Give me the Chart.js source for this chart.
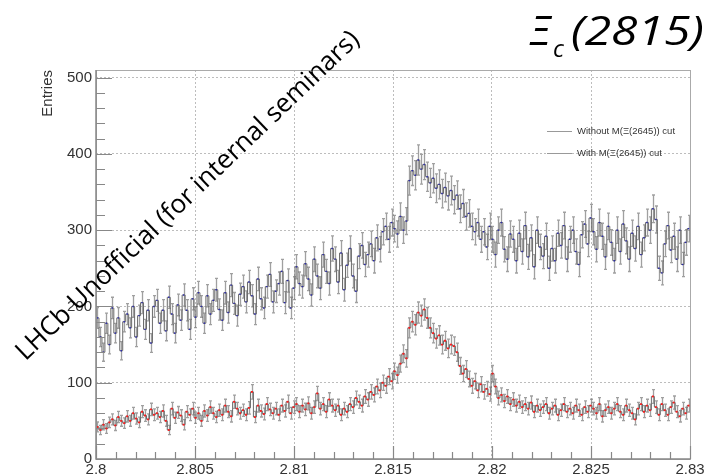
<!DOCTYPE html>
<html>
<head>
<meta charset="utf-8">
<script src="https://cdn.jsdelivr.net/npm/chart.js@4.4.1/dist/chart.umd.min.js"></script>
<style>
  html, body { margin: 0; padding: 0; background: #fff; }
  #wrap { width: 709px; height: 474px; position: relative; }
</style>
</head>
<body>
<div id="wrap"><canvas id="xicChart"></canvas></div>
<script>
// histogram binning (GeV)
const binLow = 2.8;
const binWidth = 0.00015;

const xTicks = [2.8, 2.805, 2.81, 2.815, 2.82, 2.825, 2.83];
const xTickLabels = ['2.8', '2.805', '2.81', '2.815', '2.82', '2.825', '2.83'];
const yTicks = [0, 100, 200, 300, 400, 500];
const yTickLabels = ['0', '100', '200', '300', '400', '500'];

const seriesNames = ['Without M(\u039E(2645)) cut', 'With M(\u039E(2645)) cut'];

const withoutCut = [
  185, 160, 140, 178, 150, 198, 165, 185, 142, 180,
  190, 172, 200, 160, 188, 205, 170, 195, 152, 200,
  208, 178, 195, 168, 212, 190, 165, 202, 182, 215,
  195, 170, 210, 186, 218, 200, 178, 214, 190, 208,
  222, 196, 182, 218, 192, 228, 204, 188, 216, 226,
  206, 232, 214, 190, 236, 210, 198, 226, 242, 206,
  220, 230, 246, 205, 234, 198, 224, 252, 230, 226,
  256, 236, 215, 262, 240, 224, 268, 246, 230, 276,
  262, 232, 270, 222, 254, 276, 240, 220, 266, 280,
  255, 268, 282, 260, 290, 275, 298, 305, 288, 310,
  302, 295, 318, 300, 312, 365, 378, 372, 392, 380,
  386, 370, 362, 368, 355, 360, 348, 356, 345, 352,
  340, 346, 328, 335, 318, 322, 305, 298, 310, 288,
  298, 278, 305, 288, 268, 300, 310, 275, 262, 295,
  288, 260, 296, 272, 306, 265, 290, 252, 300, 278,
  266, 292, 250, 276, 260, 296, 280, 306, 262, 288,
  300, 272, 255, 294, 308, 282, 316, 298, 275, 310,
  292, 265, 305, 284, 260, 300, 272, 308, 286, 262,
  296, 276, 305, 268, 290, 310, 300, 328, 314, 250,
  244, 282, 306, 274, 292, 262, 300, 255, 284, 302
];

const withCut = [
  42, 38, 45, 40, 48, 52, 44, 55, 50, 47,
  56, 50, 60, 53, 48, 62, 57, 52, 65, 58,
  60, 55, 63, 50, 38, 66, 54, 61, 57, 45,
  62, 58, 66, 54, 60, 50, 63, 57, 68, 60,
  55, 64, 58, 70, 62, 56, 75, 66, 60, 64,
  58, 67, 88, 55, 70, 63, 59, 72, 65, 60,
  66, 58, 70, 63, 75, 60, 68, 72, 62, 70,
  65, 73, 60, 68, 86, 66, 72, 62, 78, 70,
  64, 70, 58, 66, 62, 72, 68, 80, 75, 70,
  82, 78, 88, 84, 95, 90, 100, 96, 108, 102,
  115, 110, 125, 138, 132, 172, 180, 176, 192, 188,
  196, 185, 172, 165, 158, 162, 150, 155, 145, 150,
  148, 140, 122, 112, 118, 105, 96, 102, 90, 98,
  88, 92, 85, 112, 95, 80, 84, 76, 82, 72,
  78, 70, 75, 68, 72, 66, 74, 62, 70, 64,
  68, 72, 60, 66, 70, 58, 64, 72, 62, 66,
  60, 70, 64, 58, 68, 62, 70, 66, 60, 72,
  56, 64, 68, 60, 66, 72, 62, 58, 70, 64,
  60, 52, 66, 72, 62, 70, 64, 82, 68, 58,
  72, 64, 58, 68, 74, 62, 56, 66, 60, 70
];

function toPoints(vals) {
  return vals.map((v, i) => ({ x: binLow + binWidth * (i + 0.5), y: v }));
}

// ROOT-like decorations: error bars, inner ticks, frame, texts
const rootStyle = {
  id: 'rootStyle',
  beforeDatasetsDraw(chart) {
    const { ctx, chartArea: a, scales: { x, y } } = chart;
    ctx.save();
    ctx.beginPath();
    ctx.rect(a.left, a.top, a.right - a.left, a.bottom - a.top);
    ctx.clip();
    chart.data.datasets.forEach(ds => {
      ctx.strokeStyle = ds.errColor;
      ctx.lineWidth = 1.3;
      ds.data.forEach(p => {
        const px = Math.round(x.getPixelForValue(p.x)) + 0.5;
        const e = Math.sqrt(p.y);
        const y1 = y.getPixelForValue(p.y + e);
        const y2 = y.getPixelForValue(p.y - e);
        ctx.beginPath();
        ctx.moveTo(px, y1); ctx.lineTo(px, y2);
        ctx.moveTo(px - 1.5, y1); ctx.lineTo(px + 1.5, y1);
        ctx.moveTo(px - 1.5, y2); ctx.lineTo(px + 1.5, y2);
        ctx.stroke();
      });
    });
    ctx.restore();
  },
  afterDraw(chart) {
    const { ctx, chartArea: a, scales: { x, y } } = chart;
    ctx.save();

    // frame
    ctx.strokeStyle = '#aaa';
    ctx.lineWidth = 1;
    ctx.strokeRect(a.left + 0.5, a.top + 0.5, a.right - a.left, a.bottom - a.top);
    ctx.strokeStyle = '#888';
    ctx.lineWidth = 1.5;
    ctx.beginPath();
    ctx.moveTo(a.left, a.top); ctx.lineTo(a.left, a.bottom); ctx.lineTo(a.right, a.bottom);
    ctx.stroke();

    // inner ticks
    ctx.strokeStyle = '#888';
    ctx.lineWidth = 1.2;
    ctx.beginPath();
    for (let v = 0; v <= 500; v += 20) {
      const py = Math.round(y.getPixelForValue(v)) + 0.5;
      ctx.moveTo(a.left, py);
      ctx.lineTo(a.left + (v % 100 === 0 ? 16 : 9), py);
    }
    for (let k = 0; k <= 30; k++) {
      const px = Math.round(x.getPixelForValue(2.8 + k * 0.001)) + 0.5;
      ctx.moveTo(px, a.bottom);
      ctx.lineTo(px, a.bottom - (k % 5 === 0 ? 13 : 7));
    }
    ctx.stroke();

    // y title
    ctx.fillStyle = '#333';
    ctx.font = '15px "Liberation Sans", Arial, sans-serif';
    ctx.save();
    ctx.translate(52, a.top);
    ctx.rotate(-Math.PI / 2);
    ctx.textAlign = 'right';
    ctx.textBaseline = 'alphabetic';
    ctx.fillText('Entries', 0, 0);
    ctx.restore();

    // legend
    ctx.font = '9.5px "Liberation Sans", Arial, sans-serif';
    ctx.textAlign = 'left';
    ctx.textBaseline = 'middle';
    [131, 153].forEach((ly, i) => {
      ctx.strokeStyle = '#999';
      ctx.lineWidth = 1;
      ctx.beginPath();
      ctx.moveTo(547, ly + 0.5); ctx.lineTo(572, ly + 0.5);
      ctx.stroke();
      ctx.fillStyle = '#333';
      ctx.fillText(seriesNames[i], 577, ly);
    });

    // title Xi_c(2815)
    ctx.fillStyle = '#000';
    ctx.textBaseline = 'alphabetic';
    ctx.font = 'italic 40px "Open Sans", sans-serif';
    const main = '(2815)';
    const wMain = ctx.measureText(main).width;
    ctx.save();
    ctx.translate(571, 45);
    ctx.scale(133 / wMain, 1);
    ctx.fillText(main, 0, 0);
    ctx.restore();
    ctx.fillText('\u039E', 530, 45);
    ctx.font = 'italic 24px "Open Sans", sans-serif';
    ctx.fillText('c', 553, 57);

    // watermark
    const wm = 'LHCb Unofficial (for internal seminars)';
    ctx.font = '24px "Open Sans", sans-serif';
    const w0 = ctx.measureText(wm).width;
    const fs = 24 * 463 / w0;
    ctx.font = fs.toFixed(1) + 'px "Open Sans", sans-serif';
    ctx.translate(188, 196);
    ctx.rotate(-Math.atan2(320, 335));
    ctx.textAlign = 'center';
    ctx.textBaseline = 'middle';
    ctx.fillText(wm, 0, 0);

    ctx.restore();
  }
};

new Chart(document.getElementById('xicChart'), {
  type: 'line',
  data: {
    datasets: [
      {
        label: seriesNames[0],
        data: toPoints(withoutCut),
        stepped: 'middle',
        borderColor: '#6a6a6a',
        borderWidth: 1,
        pointStyle: 'rect',
        pointRadius: 1,
        pointBorderWidth: 0,
        pointBackgroundColor: '#2b2bb0',
        errColor: 'rgba(120,120,120,0.7)'
      },
      {
        label: seriesNames[1],
        data: toPoints(withCut),
        stepped: 'middle',
        borderColor: '#6a6a6a',
        borderWidth: 1,
        pointStyle: 'rect',
        pointRadius: 1.3,
        pointBorderWidth: 0,
        pointBackgroundColor: '#ff1a1a',
        errColor: 'rgba(120,120,120,0.7)'
      }
    ]
  },
  options: {
    responsive: true,
    maintainAspectRatio: false,
    animation: false,
    layout: { padding: { top: 70, right: 19, left: 0, bottom: 0 } },
    plugins: {
      legend: { display: false },
      tooltip: { enabled: false }
    },
    scales: {
      x: {
        type: 'linear',
        min: 2.8,
        max: 2.83,
        afterFit: s => { s.height = 15; },
        afterBuildTicks: s => { s.ticks = xTicks.map(v => ({ value: v })); },
        ticks: {
          padding: 2,
          maxRotation: 0,
          autoSkip: false,
          color: '#333',
          font: { family: '"Liberation Sans", Arial, sans-serif', size: 15 },
          callback: (v, i) => xTickLabels[i]
        },
        grid: { color: '#bdbdbd', drawTicks: false },
        border: { display: false, dash: [2, 2] }
      },
      y: {
        min: 0,
        max: 510,
        afterFit: s => { s.width = 96; },
        afterBuildTicks: s => { s.ticks = yTicks.map(v => ({ value: v })); },
        ticks: {
          padding: 4,
          color: '#333',
          font: { family: '"Liberation Sans", Arial, sans-serif', size: 15 },
          callback: (v, i) => yTickLabels[i]
        },
        grid: { color: '#bdbdbd', drawTicks: false },
        border: { display: false, dash: [2, 2] }
      }
    }
  },
  plugins: [rootStyle]
});
</script>
</body>
</html>
